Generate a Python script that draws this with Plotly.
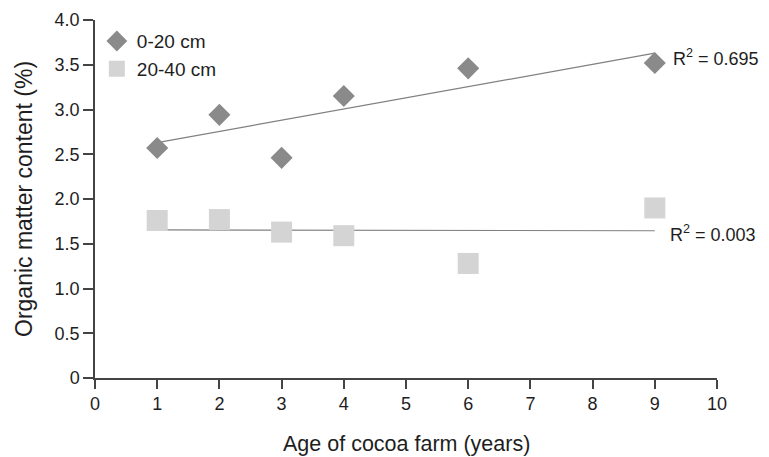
import plotly.graph_objects as go

# Data
age = [1, 2, 3, 4, 6, 9]
om_0_20 = [2.57, 2.94, 2.46, 3.15, 3.46, 3.52]
om_20_40 = [1.76, 1.77, 1.63, 1.59, 1.28, 1.90]

trend_x = [1, 9]
trend_0_20 = [2.63, 3.63]
trend_20_40 = [1.655, 1.645]

r2_labels = ["R<sup>2</sup> = 0.695", "R<sup>2</sup> = 0.003"]

x_ticks = list(range(0, 11))
y_tickvals = [0, 0.5, 1.0, 1.5, 2.0, 2.5, 3.0, 3.5, 4.0]
y_ticktext = ["0", "0.5", "1.0", "1.5", "2.0", "2.5", "3.0", "3.5", "4.0"]

FONT = "Liberation Sans, Arial, Helvetica, sans-serif"
DIAMOND = "#8a8a8a"
SQUARE = "#d4d4d4"
LINE = "#808080"
AXIS = "#444444"
TXT = "#1e1e1e"

fig = go.Figure()

fig.add_trace(go.Scatter(
    x=trend_x, y=trend_0_20, mode="lines",
    line=dict(color=LINE, width=1.2), showlegend=False, hoverinfo="skip"))
fig.add_trace(go.Scatter(
    x=trend_x, y=trend_20_40, mode="lines",
    line=dict(color=LINE, width=1.2), showlegend=False, hoverinfo="skip"))

fig.add_trace(go.Scatter(
    x=age, y=om_0_20, mode="markers", name="0-20 cm", legendgroup="a",
    marker=dict(symbol="diamond", size=17, color=DIAMOND, line=dict(width=0))))
fig.add_trace(go.Scatter(
    x=age, y=om_20_40, mode="markers", name="20-40 cm", legendgroup="b",
    marker=dict(symbol="square", size=21, color=SQUARE, line=dict(width=0))))

fig.add_annotation(x=trend_x[1], y=trend_0_20[1], text=r2_labels[0],
                   xanchor="left", yanchor="middle", xshift=16, yshift=-4,
                   showarrow=False, font=dict(size=18, color=TXT, family=FONT))
fig.add_annotation(x=trend_x[1], y=trend_20_40[1], text=r2_labels[1],
                   xanchor="left", yanchor="middle", xshift=13, yshift=-3,
                   showarrow=False, font=dict(size=18, color=TXT, family=FONT))

# axis titles
fig.add_annotation(xref="paper", yref="paper", x=0.5, y=0, yanchor="middle",
                   xanchor="center", yshift=-66, showarrow=False,
                   text="Age of cocoa farm (years)",
                   font=dict(size=21.5, color=TXT, family=FONT))
fig.add_annotation(xref="paper", yref="paper", x=0, y=0.5, xanchor="center",
                   yanchor="middle", xshift=-71, showarrow=False, textangle=-90,
                   text="Organic matter content (%)",
                   font=dict(size=23, color=TXT, family=FONT))

# The page body has an 8px default margin, so the figure is 8px smaller
fig.update_layout(
    width=761, height=449,
    margin=dict(l=87, r=52, t=12, b=79, autoexpand=False),
    paper_bgcolor="white", plot_bgcolor="white",
    font=dict(family=FONT, size=18, color=TXT),
    legend=dict(x=0.003, y=0.994, xanchor="left", yanchor="top",
                bgcolor="rgba(0,0,0,0)", font=dict(size=19, color=TXT),
                itemsizing="trace", tracegroupgap=0),
    showlegend=True,
)

fig.update_xaxes(
    range=[0, 10], tickvals=x_ticks, ticktext=[str(v) for v in x_ticks],
    showgrid=False, zeroline=False, showline=True, linecolor=AXIS, linewidth=1.5,
    ticks="outside", ticklen=9, tickwidth=1.5, tickcolor=AXIS, automargin=False,
    tickfont=dict(size=18, color=TXT),
)
fig.update_yaxes(
    range=[0, 4.0], tickvals=y_tickvals, ticktext=y_ticktext,
    showgrid=False, zeroline=False, showline=True, linecolor=AXIS, linewidth=1.5,
    ticks="outside", ticklen=10, tickwidth=1.5, tickcolor=AXIS, automargin=False,
    tickfont=dict(size=18, color=TXT),
)

fig.write_html("out.html")
